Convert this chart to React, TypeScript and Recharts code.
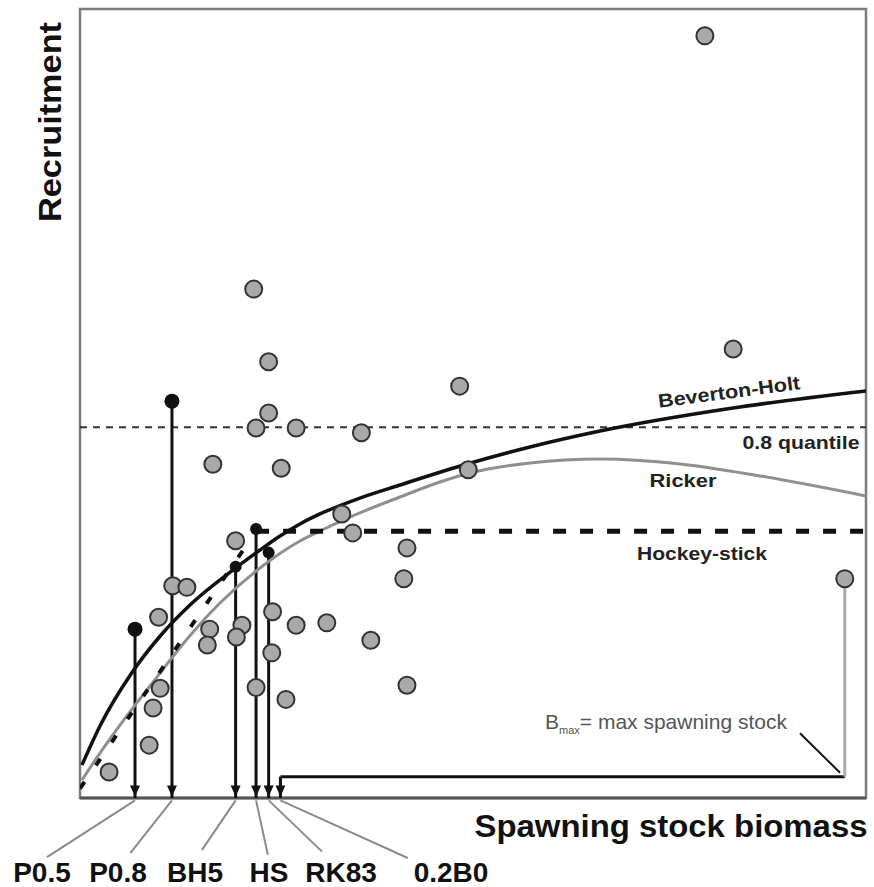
import { ComposedChart, Line, ReferenceArea, ReferenceLine, Scatter, XAxis, YAxis } from 'recharts'

// observed stock-recruitment pairs (relative units, 0-100 on both axes)
const observations = [
  { x: 79.5, y: 96.6 }, { x: 22.1, y: 64.5 }, { x: 24.0, y: 55.3 }, { x: 83.1, y: 56.9 },
  { x: 48.3, y: 52.2 }, { x: 24.0, y: 48.8 }, { x: 22.4, y: 46.9 }, { x: 27.5, y: 46.9 },
  { x: 35.8, y: 46.3 }, { x: 16.9, y: 42.3 }, { x: 25.6, y: 41.8 }, { x: 49.4, y: 41.6 },
  { x: 33.3, y: 36.0 }, { x: 34.7, y: 33.6 }, { x: 19.8, y: 32.6 }, { x: 41.6, y: 31.7 },
  { x: 41.2, y: 27.8 }, { x: 97.3, y: 27.8 }, { x: 11.8, y: 26.9 }, { x: 13.6, y: 26.7 },
  { x: 10.0, y: 22.9 }, { x: 16.5, y: 21.4 }, { x: 20.6, y: 21.9 }, { x: 24.5, y: 23.6 },
  { x: 27.5, y: 21.9 }, { x: 31.4, y: 22.2 }, { x: 37.0, y: 20.0 }, { x: 16.2, y: 19.4 },
  { x: 19.9, y: 20.4 }, { x: 24.4, y: 18.4 }, { x: 10.2, y: 13.9 }, { x: 22.4, y: 14.0 },
  { x: 26.2, y: 12.5 }, { x: 41.6, y: 14.3 }, { x: 9.3, y: 11.4 }, { x: 8.8, y: 6.7 },
  { x: 3.7, y: 3.3 },
]

const bevertonHolt = [
  { x: 0.25, y: 4.18 }, { x: 2.67, y: 9.38 }, { x: 6.49, y: 15.72 }, { x: 10.31, y: 20.66 },
  { x: 13.99, y: 24.46 }, { x: 19.97, y: 29.28 }, { x: 22.9, y: 31.43 }, { x: 25.45, y: 33.21 },
  { x: 27.99, y: 34.73 }, { x: 30.53, y: 36.0 }, { x: 35.62, y: 38.02 }, { x: 40.71, y: 39.67 },
  { x: 49.24, y: 42.33 }, { x: 57.25, y: 44.49 }, { x: 66.16, y: 46.51 }, { x: 83.08, y: 49.43 },
  { x: 100, y: 51.58 },
]

const ricker = [
  { x: 0.25, y: 2.28 }, { x: 2.54, y: 5.7 }, { x: 5.09, y: 9.25 }, { x: 8.91, y: 14.2 },
  { x: 13.74, y: 20.28 }, { x: 17.81, y: 24.71 }, { x: 22.9, y: 29.15 }, { x: 27.99, y: 32.57 },
  { x: 30.53, y: 33.84 }, { x: 34.35, y: 35.61 }, { x: 40.71, y: 38.15 }, { x: 45.8, y: 40.05 },
  { x: 49.62, y: 41.19 }, { x: 57.25, y: 42.46 }, { x: 66.16, y: 42.97 }, { x: 76.34, y: 42.33 },
  { x: 86.51, y: 40.81 }, { x: 100, y: 38.28 },
]

const hockeyRise = [{ x: 0, y: 1.2 }, { x: 22.4, y: 33.8 }]
const hockeyFlat = [{ x: 22.4, y: 33.8 }, { x: 100, y: 33.8 }]
const quantile08 = 47.0

// reference points: name, position on the biomass axis, height of the marker
const refNames = ['P0.5', 'P0.8', 'BH5', 'HS', 'RK83', '0.2B0']
const refX = [7.0, 11.7, 19.8, 22.4, 24.0, 25.5]
const refTop = [21.4, 50.3, 29.3, 34.1, 31.1, 2.7]
const leaderEndX = [-4.2, 6.4, 15.5, 23.9, 30.8, 41.7]
const leaderEndY = [-7.5, -7.0, -6.6, -7.2, -6.8, -7.6]
const labelCenters = [42, 118, 195, 269, 341, 451]

const bigEstimates = [{ x: 7.0, y: 21.4 }, { x: 11.7, y: 50.3 }]
const smallEstimates = [{ x: 19.8, y: 29.3 }, { x: 22.4, y: 34.1 }, { x: 24.0, y: 31.1 }]
const arrowTips = refX.map((x) => ({ x, y: 0.2 }))

const bMax = { x: 97.3, y: 27.8 }
const bracketY = 2.7
const pointer = [{ x: 91.6, y: 8.2 }, { x: 96.7, y: 3.2 }]

const FONT = '"Liberation Sans", Arial, sans-serif'

export default function App() {
  return (
    <div style={{ position: 'absolute', left: 0, top: 0, width: 874, height: 887, background: '#fff' }}>
      <ComposedChart width={874} height={887} margin={{ top: 9, right: 8, bottom: 89, left: 80 }}>
        <XAxis type="number" dataKey="x" domain={[0, 100]} hide allowDataOverflow />
        <YAxis type="number" dataKey="y" domain={[0, 100]} hide allowDataOverflow />
        <ReferenceArea x1={0} x2={100} y1={0} y2={100} fill="none" stroke="#7d7d7d" strokeWidth={2.5} ifOverflow="visible" />
        <ReferenceLine y={0} stroke="#555" strokeWidth={3} ifOverflow="visible" />
        <ReferenceLine y={quantile08} stroke="#333" strokeWidth={2} strokeDasharray="7 6" />

        {refX.map((x, i) => (
          <ReferenceLine
            key={refNames[i]}
            segment={[{ x, y: 0 }, { x, y: refTop[i] }]}
            stroke="#111"
            strokeWidth={3}
            ifOverflow="visible"
          />
        ))}
        {refX.map((x, i) => (
          <ReferenceLine
            key={'lead' + refNames[i]}
            segment={[{ x, y: -0.3 }, { x: leaderEndX[i], y: leaderEndY[i] }]}
            stroke="#8a8a8a"
            strokeWidth={2}
            ifOverflow="visible"
          />
        ))}
        <ReferenceLine segment={[{ x: refX[5], y: bracketY }, { x: bMax.x, y: bracketY }]} stroke="#111" strokeWidth={3} ifOverflow="visible" />
        <ReferenceLine segment={[{ x: bMax.x, y: bracketY }, { x: bMax.x, y: bMax.y }]} stroke="#aaa" strokeWidth={3} ifOverflow="visible" />
        <ReferenceLine segment={[pointer[0], pointer[1]]} stroke="#111" strokeWidth={2} ifOverflow="visible" />

        <Line data={ricker} dataKey="y" type="monotone" stroke="#8f8f8f" strokeWidth={3} dot={false} isAnimationActive={false} />
        <Line data={hockeyRise} dataKey="y" type="linear" stroke="#111" strokeWidth={4} strokeDasharray="8 20" dot={false} isAnimationActive={false} />
        <Line data={hockeyFlat} dataKey="y" type="linear" stroke="#111" strokeWidth={5} strokeDasharray="13 14" dot={false} isAnimationActive={false} />
        <Line data={bevertonHolt} dataKey="y" type="monotone" stroke="#111" strokeWidth={3.5} dot={false} isAnimationActive={false} />

        <Scatter
          data={observations}
          isAnimationActive={false}
          shape={(p: any) => <circle cx={p.cx} cy={p.cy} r={8.5} fill="#a9a9a9" stroke="#333" strokeWidth={2} />}
        />
        <Scatter
          data={bigEstimates}
          isAnimationActive={false}
          shape={(p: any) => <circle cx={p.cx} cy={p.cy} r={7.5} fill="#111" />}
        />
        <Scatter
          data={smallEstimates}
          isAnimationActive={false}
          shape={(p: any) => <circle cx={p.cx} cy={p.cy} r={6} fill="#111" />}
        />
        <Scatter
          data={arrowTips}
          isAnimationActive={false}
          shape={(p: any) => (
            <path d={`M${p.cx - 5},${p.cy - 11} L${p.cx + 5},${p.cy - 11} L${p.cx},${p.cy} Z`} fill="#111" />
          )}
        />
      </ComposedChart>

      <svg
        width={874}
        height={887}
        style={{ position: 'absolute', left: 0, top: 0, pointerEvents: 'none', fontFamily: FONT }}
      >
        <text
          x={50}
          y={122}
          transform="rotate(-90 50 122)"
          textAnchor="middle"
          dominantBaseline="central"
          fontSize={32}
          fontWeight="bold"
          fill="#111"
          textLength={200}
          lengthAdjust="spacingAndGlyphs"
        >
          Recruitment
        </text>
        <text
          x={671}
          y={826}
          textAnchor="middle"
          dominantBaseline="central"
          fontSize={31}
          fontWeight="bold"
          fill="#111"
          textLength={393}
          lengthAdjust="spacingAndGlyphs"
        >
          Spawning stock biomass
        </text>
        {refNames.map((n, i) => (
          <text
            key={n}
            x={labelCenters[i]}
            y={872}
            textAnchor="middle"
            dominantBaseline="central"
            fontSize={28}
            fontWeight="bold"
            fill="#111"
          >
            {n}
          </text>
        ))}
        <text
          x={729}
          y={392}
          transform="rotate(-7.5 729 392)"
          textAnchor="middle"
          dominantBaseline="central"
          fontSize={19}
          fontWeight="bold"
          fill="#222"
          textLength={143}
          lengthAdjust="spacingAndGlyphs"
        >
          Beverton-Holt
        </text>
        <text x={801} y={442} textAnchor="middle" dominantBaseline="central" fontSize={19} fontWeight="bold" fill="#222" textLength={117} lengthAdjust="spacingAndGlyphs">
          0.8 quantile
        </text>
        <text x={683} y={480} textAnchor="middle" dominantBaseline="central" fontSize={19} fontWeight="bold" fill="#222" textLength={67} lengthAdjust="spacingAndGlyphs">
          Ricker
        </text>
        <text x={702} y={553} textAnchor="middle" dominantBaseline="central" fontSize={19} fontWeight="bold" fill="#222" textLength={130} lengthAdjust="spacingAndGlyphs">
          Hockey-stick
        </text>
        <text x={545} y={729} fontSize={21} fill="#555">
          B
          <tspan fontSize={11} dy={5}>max</tspan>
          <tspan dy={-5}>= max spawning stock</tspan>
        </text>
      </svg>
    </div>
  )
}
